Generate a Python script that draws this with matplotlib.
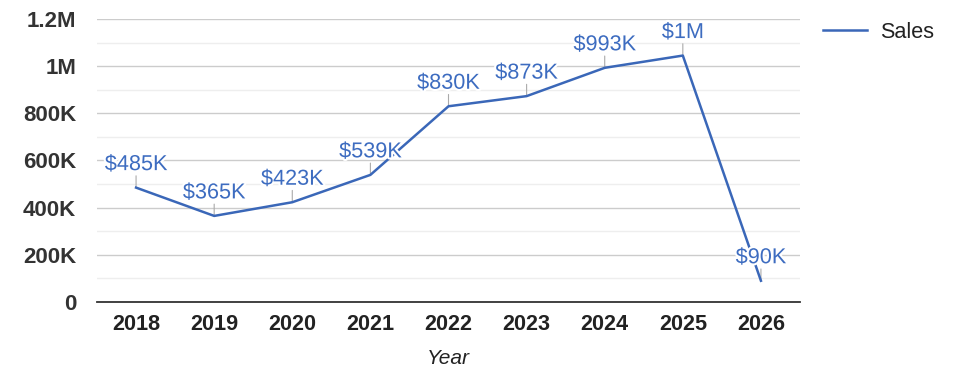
import matplotlib
matplotlib.use("Agg")
import matplotlib.pyplot as plt
import matplotlib.patheffects as pe
from matplotlib.ticker import MultipleLocator, FuncFormatter

years = ["2018", "2019", "2020", "2021", "2022", "2023", "2024", "2025", "2026"]
sales = [485000, 365000, 423000, 539000, 830000, 873000, 993000, 1045000, 90000]

plt.rcParams['font.family'] = ['Liberation Sans', 'DejaVu Sans']

fig = plt.figure(figsize=(9.75, 3.78), dpi=100)
ax = fig.add_axes([0.0995, 0.2011, 0.7210, 0.7486])

blue = "#3a67b8"
x = list(range(len(years)))
line, = ax.plot(x, sales, color=blue, lw=1.8, label="Sales", zorder=3)

def fmt_val(v):
    if v >= 1e6:
        return f"${v/1e6:.0f}M"
    return f"${v/1e3:.0f}K"

for xi, v in zip(x, sales):
    ax.annotate("", xy=(xi, v), xytext=(0, 8.5), textcoords="offset points",
                arrowprops=dict(arrowstyle="-", color="#aaaaaa", lw=0.8, shrinkA=0, shrinkB=0),
                zorder=2)
    ax.annotate(fmt_val(v), xy=(xi, v), xytext=(0, 9), textcoords="offset points",
                ha="center", va="bottom", fontsize=15.6, color="#3d6cc0",
                path_effects=[pe.withStroke(linewidth=3, foreground="white")], zorder=4)

ax.set_xlim(-0.5, len(years) - 0.5)
ax.set_ylim(0, 1200000)
ax.set_xticks(x)
ax.set_xticklabels(years, fontsize=15.6, fontweight="bold", color="#222222")
ax.yaxis.set_major_locator(MultipleLocator(200000))
ax.yaxis.set_minor_locator(MultipleLocator(100000))

def yfmt(v, p):
    if v == 0:
        return "0"
    if v >= 1e6:
        s = f"{v/1e6:.1f}".rstrip("0").rstrip(".")
        return s + "M"
    return f"{v/1e3:.0f}K"

ax.yaxis.set_major_formatter(FuncFormatter(yfmt))
for lab in ax.get_yticklabels():
    lab.set_fontweight("bold")
ax.tick_params(axis="y", which="both", length=0, labelsize=16, labelcolor="#333333", pad=15)
ax.tick_params(axis="x", length=0, pad=9)

ax.grid(True, which="major", axis="y", color="#cccccc", lw=1)
ax.grid(True, which="minor", axis="y", color="#eeeeee", lw=1)
ax.set_axisbelow(True)
for s in ["left", "right", "top"]:
    ax.spines[s].set_visible(False)
ax.spines["bottom"].set_color("#333333")
ax.spines["bottom"].set_linewidth(1.3)

ax.set_xlabel("Year", fontsize=15, style="italic", color="#222222", labelpad=10)

fig.legend(handles=[line], labels=["Sales"], loc="upper left",
           bbox_to_anchor=(0.8246, 0.9935), frameon=False, fontsize=15.6,
           handlelength=2.0, handletextpad=0.6, labelcolor="#222222")

fig.savefig("out.png", dpi=100)
